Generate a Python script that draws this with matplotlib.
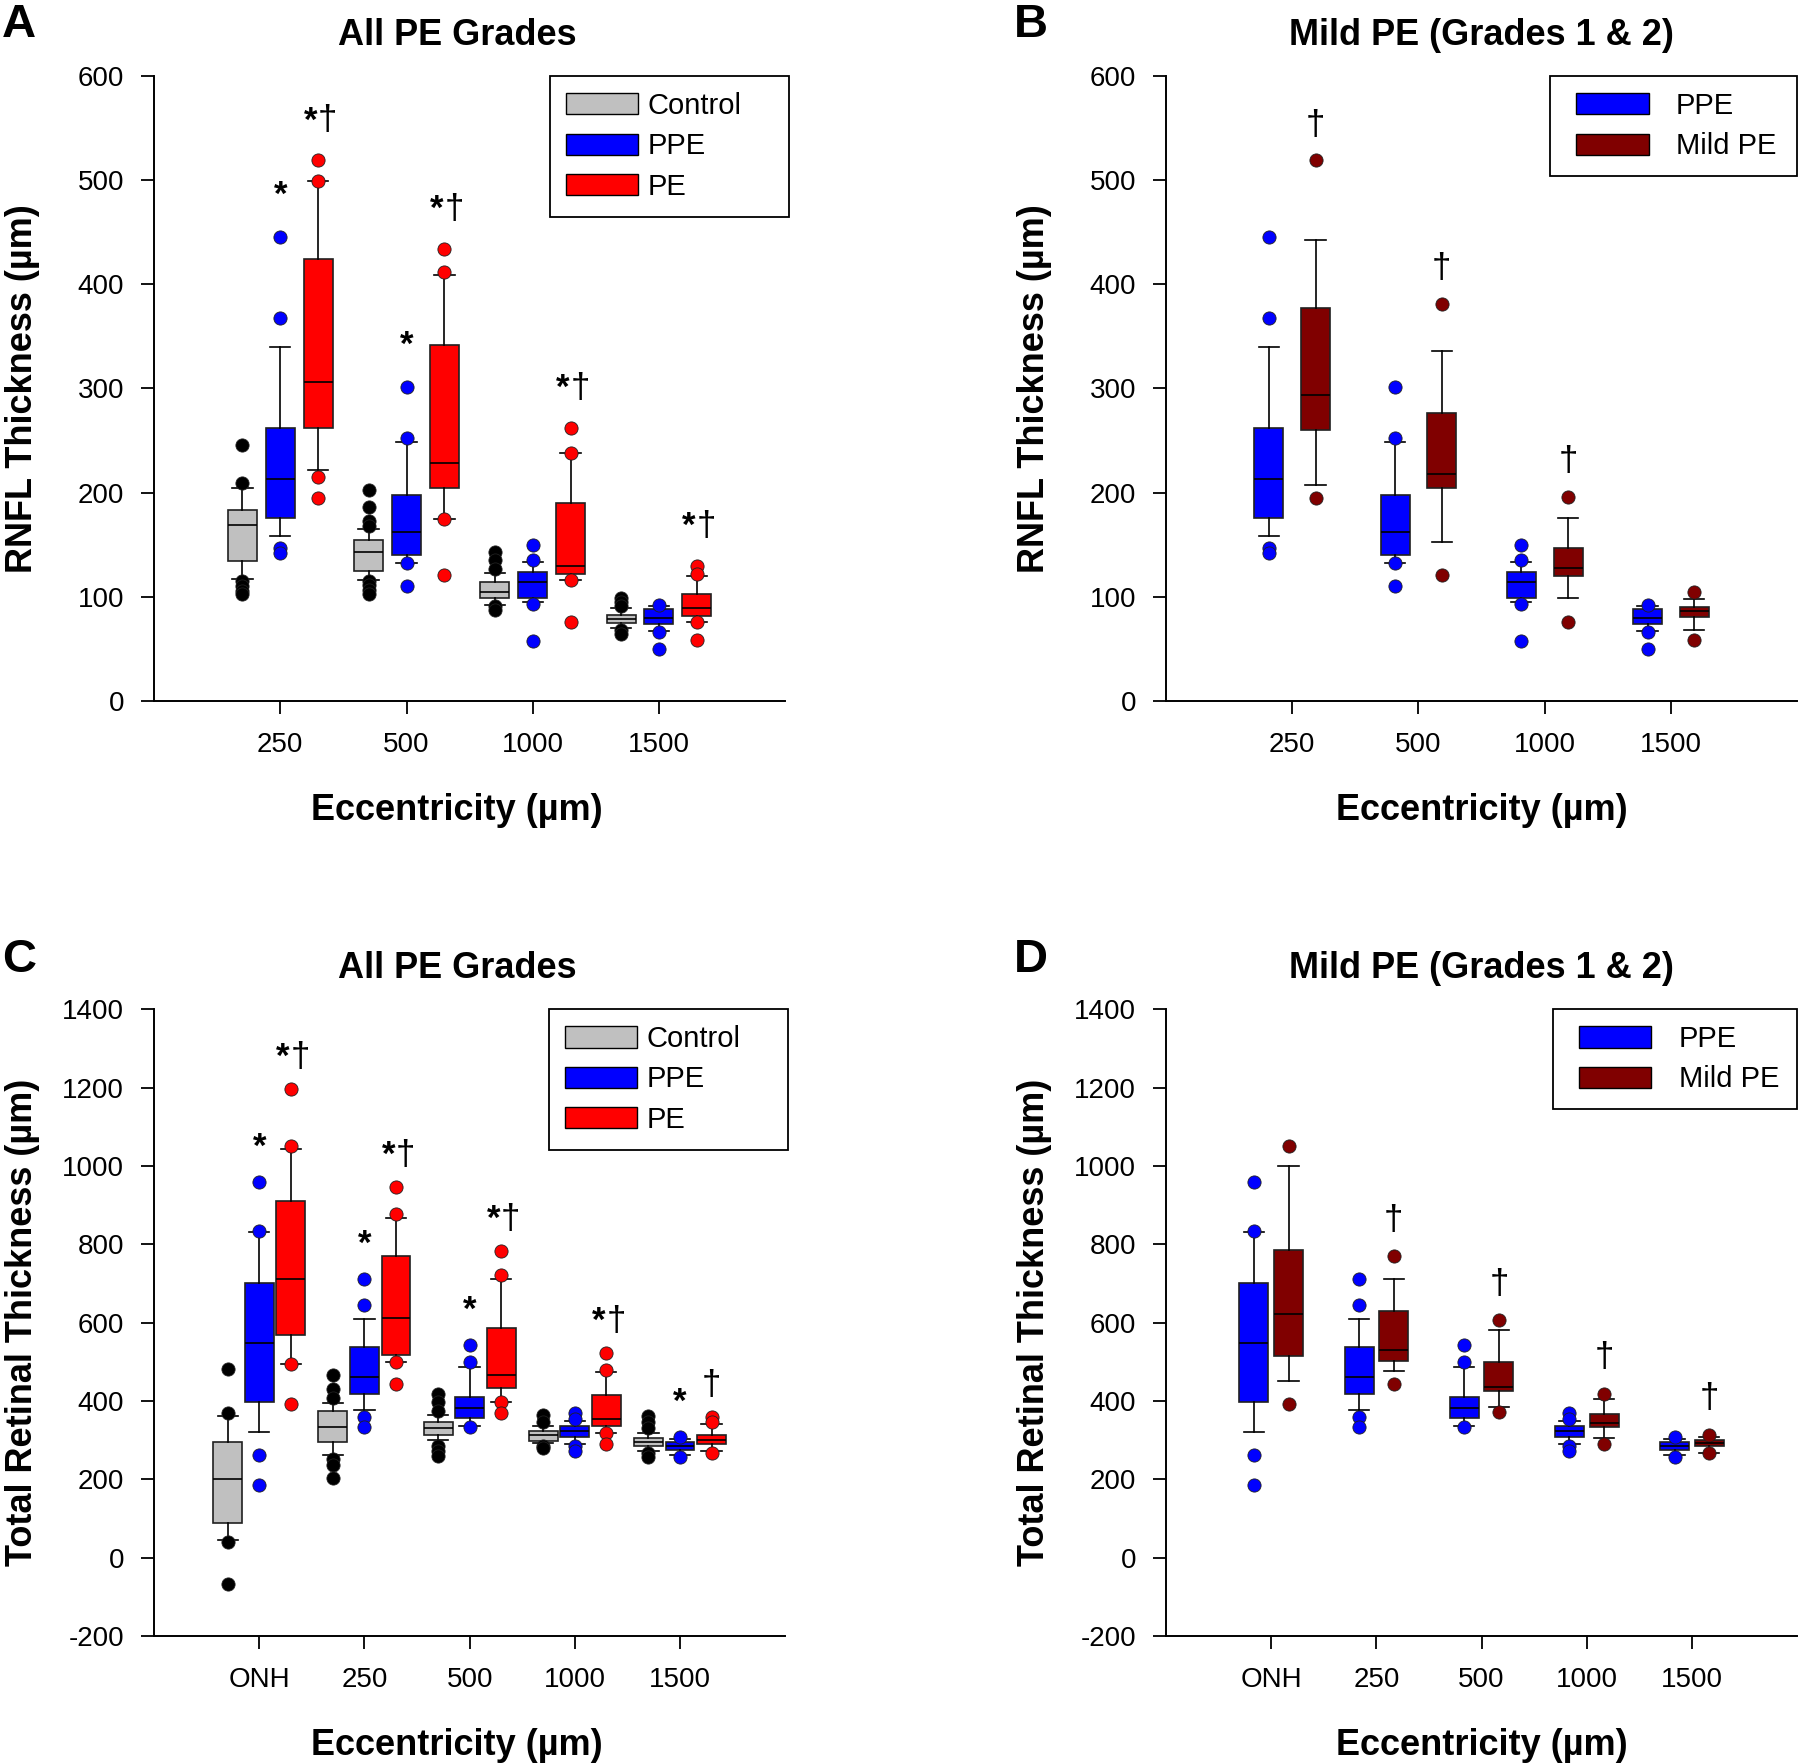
# Box plots of RNFL and total retinal thickness by eccentricity,
# all PE grades vs mild PE (four panels).

import numpy as np
import matplotlib.pyplot as plt
from matplotlib.patches import Patch
from matplotlib.legend_handler import HandlerPatch

plt.rcParams['font.family'] = ['Liberation Sans', 'DejaVu Sans']
plt.rcParams['axes.unicode_minus'] = False

# ---- data: each box is [whisker low, q1, median, q3, whisker high] ----
rnfl_ecc = ['250', '500', '1000', '1500']
total_ecc = ['ONH', '250', '500', '1000', '1500']

rnfl_control = [[117, 134, 169, 183, 204],
                [116, 125, 143, 155, 165],
                [92, 99, 105, 114, 123],
                [70, 75, 79, 83, 89]]
rnfl_control_out = [[246, 209, 115, 110, 106, 103],
                    [203, 186, 173, 168, 115, 111, 107, 103],
                    [143, 135, 127, 91, 87],
                    [99, 95, 91, 68, 64]]

rnfl_ppe = [[158, 176, 213, 262, 340],
            [132, 140, 162, 198, 249],
            [95, 99, 114, 124, 133],
            [67, 74, 80, 88, 91]]
rnfl_ppe_out = [[445, 368, 147, 142],
                [301, 252, 132, 110],
                [150, 135, 93, 58],
                [92, 66, 50]]

rnfl_pe = [[222, 262, 306, 424, 499],
           [175, 204, 228, 342, 409],
           [116, 122, 130, 190, 238],
           [76, 82, 89, 103, 120]]
rnfl_pe_out = [[519, 499, 215, 195],
               [434, 412, 175, 121],
               [262, 238, 116, 76],
               [130, 122, 76, 59]]

rnfl_mild = [[207, 260, 294, 377, 443],
             [153, 204, 218, 276, 336],
             [99, 120, 128, 147, 176],
             [68, 81, 86, 90, 98]]
rnfl_mild_out = [[519, 195],
                 [381, 121],
                 [196, 76],
                 [105, 59]]

tr_control = [[44, 88, 202, 296, 362],
              [262, 296, 333, 375, 394],
              [301, 312, 330, 346, 364],
              [292, 298, 312, 323, 336],
              [273, 284, 295, 306, 317]]
tr_control_out = [[481, 369, 41, -67],
                  [466, 430, 408, 253, 237, 204],
                  [417, 397, 375, 286, 273, 259],
                  [364, 347, 286, 279],
                  [362, 347, 331, 267, 258]]

tr_ppe = [[320, 397, 549, 702, 830],
          [378, 418, 460, 539, 610],
          [336, 356, 383, 409, 487],
          [289, 309, 323, 337, 350],
          [262, 275, 285, 295, 303]]
tr_ppe_out = [[959, 834, 262, 185],
              [712, 646, 358, 333],
              [543, 499, 333],
              [369, 355, 286, 273],
              [309, 256]]

tr_pe = [[494, 569, 711, 910, 1042],
         [500, 517, 612, 771, 868],
         [398, 433, 465, 585, 712],
         [319, 336, 353, 416, 475],
         [272, 290, 300, 314, 340]]
tr_pe_out = [[1195, 1050, 494, 392],
             [946, 877, 500, 444],
             [783, 722, 397, 369],
             [523, 480, 317, 290],
             [358, 347, 267]]

tr_mild = [[451, 515, 621, 786, 1000],
           [477, 502, 531, 629, 712],
           [385, 426, 435, 499, 581],
           [305, 333, 344, 366, 406],
           [267, 286, 293, 301, 309]]
tr_mild_out = [[1050, 392],
               [770, 444],
               [606, 372],
               [419, 290],
               [314, 267]]

# significance marks above boxes
a_ppe_marks = ['*', '*', '', '']
a_pe_marks = ['*†', '*†', '*†', '*†']
b_mild_marks = ['†', '†', '†', '']
c_ppe_marks = ['*', '*', '*', '', '*']
c_pe_marks = ['*†', '*†', '*†', '*†', '†']
d_mild_marks = ['', '†', '†', '†', '†']

GREY, BLUE, RED, MAROON = '#c0c0c0', '#0000ff', '#ff0000', '#800000'


def put_mark(ax, x, y, mark, lift):
    # bold asterisk, plain dagger, sitting just above the highest point
    kw = dict(xy=(x, y), textcoords='offset points', va='baseline', fontsize=25)
    if mark == '*†':
        ax.annotate('*', xytext=(-0.7, lift), ha='right', fontweight='bold', **kw)
        ax.annotate('†', xytext=(0, lift), ha='left', **kw)
    elif mark == '*':
        ax.annotate('*', xytext=(0, lift + 2), ha='center', fontweight='bold', **kw)
    else:
        ax.annotate(mark, xytext=(0, lift), ha='center', **kw)


def draw_panel(ax, cats, series, offsets, width, ylim, yticks, title, ylabel,
               legend_box, lift, title_x, wide_legend):
    n = len(cats)
    for (name, boxes, outs, face, dot, marks), off in zip(series, offsets):
        stats = [dict(whislo=b[0], q1=b[1], med=b[2], q3=b[3], whishi=b[4], fliers=o)
                 for b, o in zip(boxes, outs)]
        pos = np.arange(1, n + 1) + off
        ax.bxp(stats, positions=pos, widths=width, capwidths=width * 0.7,
               patch_artist=True, manage_ticks=False,
               boxprops=dict(facecolor=face, edgecolor='#202020', linewidth=1.2),
               medianprops=dict(color='black', linewidth=1.2),
               whiskerprops=dict(color='black', linewidth=1.2),
               capprops=dict(color='black', linewidth=1.2),
               flierprops=dict(marker='o', markerfacecolor=dot, markeredgecolor='#202020',
                               markeredgewidth=0.6, markersize=9.5, linestyle='none'))
        if marks:
            for p, b, o, m in zip(pos, boxes, outs, marks):
                if m:
                    put_mark(ax, p, max([b[4]] + list(o)), m, lift)

    ax.set_xlim(0, n + 1)
    ax.set_xticks(np.arange(1, n + 1))
    ax.set_xticklabels(cats)
    ax.set_ylim(*ylim)
    ax.set_yticks(yticks)
    ax.tick_params(axis='both', direction='out', length=9.5, width=1.3, labelsize=20)
    ax.tick_params(axis='x', pad=13)
    ax.tick_params(axis='y', pad=12)
    for s in ['top', 'right']:
        ax.spines[s].set_visible(False)
    for s in ['left', 'bottom']:
        ax.spines[s].set_linewidth(1.4)

    ax.set_title(title, fontsize=26, fontweight='bold', x=title_x, y=1.036)
    ax.set_xlabel('Eccentricity (µm)', fontsize=26, fontweight='bold')
    ax.set_ylabel(ylabel, fontsize=26, fontweight='bold')
    ax.xaxis.set_label_coords(title_x, -0.147)
    ax.yaxis.set_label_coords(-0.181, 0.5)

    handles = [Patch(facecolor=s[3], edgecolor='black', linewidth=1) for s in series]
    if wide_legend:
        hmap = {Patch: HandlerPatch(xpad=0.34)}
        hlen, tpad = 2.83, 0.93
    else:
        hmap = None
        hlen, tpad = 2.45, 0.35
    leg = ax.legend(handles, [s[0] for s in series], loc='upper left', mode='expand',
                    bbox_to_anchor=legend_box, borderaxespad=0, fontsize=21,
                    frameon=True, fancybox=False, edgecolor='black', framealpha=1,
                    handlelength=hlen, handleheight=0.74, handletextpad=tpad,
                    borderpad=0.55, labelspacing=0.42, handler_map=hmap)
    leg.get_frame().set_linewidth(1.3)


fig = plt.figure(figsize=(18, 17.63), dpi=100)
ax_a = fig.add_axes([0.0856, 0.6024, 0.3506, 0.3545])
ax_b = fig.add_axes([0.6478, 0.6024, 0.3506, 0.3545])
ax_c = fig.add_axes([0.0856, 0.0720, 0.3506, 0.3556])
ax_d = fig.add_axes([0.6478, 0.0720, 0.3506, 0.3556])

draw_panel(ax_a, rnfl_ecc,
           [('Control', rnfl_control, rnfl_control_out, GREY, 'black', None),
            ('PPE', rnfl_ppe, rnfl_ppe_out, BLUE, BLUE, a_ppe_marks),
            ('PE', rnfl_pe, rnfl_pe_out, RED, RED, a_pe_marks)],
           [-0.30, 0.0, 0.30], 0.23, (0, 600), np.arange(0, 601, 100),
           'All PE Grades', 'RNFL Thickness (µm)',
           (0.6276, 0.0, 0.3787, 1.0), 21.5, 0.48, False)

draw_panel(ax_b, rnfl_ecc,
           [('PPE', rnfl_ppe, rnfl_ppe_out, BLUE, BLUE, None),
            ('Mild PE', rnfl_mild, rnfl_mild_out, MAROON, MAROON, b_mild_marks)],
           [-0.185, 0.185], 0.23, (0, 600), np.arange(0, 601, 100),
           'Mild PE (Grades 1 & 2)', 'RNFL Thickness (µm)',
           (0.6086, 0.0, 0.3914, 1.0), 18.5, 0.5, True)

draw_panel(ax_c, total_ecc,
           [('Control', tr_control, tr_control_out, GREY, 'black', None),
            ('PPE', tr_ppe, tr_ppe_out, BLUE, BLUE, c_ppe_marks),
            ('PE', tr_pe, tr_pe_out, RED, RED, c_pe_marks)],
           [-0.30, 0.0, 0.30], 0.275, (-200, 1400), np.arange(-200, 1401, 200),
           'All PE Grades', 'Total Retinal Thickness (µm)',
           (0.626, 0.0, 0.379, 1.0), 16, 0.48, False)

draw_panel(ax_d, total_ecc,
           [('PPE', tr_ppe, tr_ppe_out, BLUE, BLUE, None),
            ('Mild PE', tr_mild, tr_mild_out, MAROON, MAROON, d_mild_marks)],
           [-0.165, 0.165], 0.275, (-200, 1400), np.arange(-200, 1401, 200),
           'Mild PE (Grades 1 & 2)', 'Total Retinal Thickness (µm)',
           (0.613, 0.0, 0.387, 1.0), 19, 0.5, True)

# panel letters
for letter, x, y in [('A', 0.0106, 0.979), ('B', 0.5728, 0.979),
                     ('C', 0.0106, 0.4487), ('D', 0.5728, 0.4487)]:
    fig.text(x, y, letter, fontsize=34, fontweight='bold', ha='center', va='baseline')

fig.savefig('out.png', dpi=100)
